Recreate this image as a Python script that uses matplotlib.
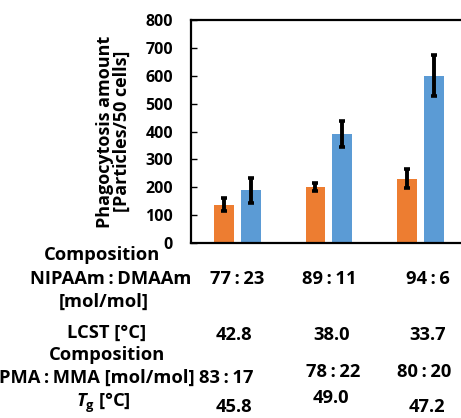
import numpy as np
import matplotlib
matplotlib.use("Agg")
import matplotlib.pyplot as plt
from matplotlib.transforms import blended_transform_factory, ScaledTranslation

plt.rcParams["font.family"] = ["Open Sans", "DejaVu Sans"]
plt.rcParams["font.weight"] = "bold"
plt.rcParams["mathtext.fontset"] = "custom"
plt.rcParams["mathtext.rm"] = "Open Sans:bold"
plt.rcParams["mathtext.it"] = "Open Sans:italic:bold"
plt.rcParams["mathtext.bf"] = "Open Sans:bold"

# bar data (three polymer compositions, two series)
orange_vals = [138, 201, 230]
orange_err = [24, 13, 34]
blue_vals = [189, 391, 600]
blue_err = [44, 46, 73]

yticks = [0, 100, 200, 300, 400, 500, 600, 700, 800]

# table below the chart
TS = "\u2009"  # thin space around the colons
nipaam_comp = [f"77{TS}:{TS}23", f"89{TS}:{TS}11", f"94{TS}:{TS}6"]
lcst = ["42.8", "38.0", "33.7"]
pma_comp = [f"83{TS}:{TS}17", f"78{TS}:{TS}22", f"80{TS}:{TS}20"]
tg = ["45.8", "49.0", "47.2"]

ORANGE = "#ED7D31"
BLUE = "#5B9BD5"

W, H = 461, 418
fig = plt.figure(figsize=(W / 100, H / 100), dpi=100)
ax = fig.add_axes([191 / W, 1 - 243 / H, 280 / W, 223 / H])

x = np.arange(len(orange_vals))
bw = 0.217
off = 0.147
ax.bar(x - off, orange_vals, bw, color=ORANGE, zorder=2)
ax.bar(x + off, blue_vals, bw, color=BLUE, zorder=2)
ekw = dict(fmt="none", ecolor="black", elinewidth=2.8, capsize=2, capthick=2.6, zorder=3)
ax.errorbar(x - off, orange_vals, yerr=orange_err, **ekw)
ax.errorbar(x + off, blue_vals, yerr=blue_err, **ekw)

ax.set_xlim(-0.505, 2.55)
ax.set_ylim(0, 800)
ax.set_yticks(yticks)
ax.set_xticks([])
ax.tick_params(axis="y", direction="in", length=4, width=1, pad=13, labelsize=11.5)
for lab in ax.get_yticklabels():
    lab.set_fontweight("bold")
for side in ["top", "bottom", "left"]:
    ax.spines[side].set_linewidth(1.6)
ax.spines["right"].set_visible(False)

ax.set_ylabel("Phagocytosis amount\n[Particles/50 cells]", fontsize=13,
              fontweight="bold", linespacing=0.95, labelpad=10)

# table rows: label, label x (px), label y (px), values, value y (px), value dx (px)
fs = 13.2
rows = [
    ("Composition", 102, 255, None, None, None),
    (f"NIPAAm{TS}:{TS}DMAAm", 111, 279, nipaam_comp, [279, 279, 279], [0, 0, 7]),
    ("[mol/mol]", 104, 302, None, None, None),
    ("LCST [°C]", 107, 333, lcst, [335, 335, 335], [-3, 3, 7]),
    ("Composition", 107, 355, None, None, None),
    (f"PMA{TS}:{TS}MMA [mol/mol]", 97, 378, pma_comp, [378, 372, 372], [-11, 4, 4]),
    (r"$T_{\mathrm{g}}$ [°C]", 103, 403, tg, [407, 398, 407], [-3, 2, 6]),
]
tr = blended_transform_factory(ax.transData, fig.transFigure)
for label, lx, ly, vals, vys, dxs in rows:
    fig.text(lx / W, 1 - ly / H, label, ha="center", va="center",
             fontsize=fs, fontweight="bold")
    if vals is not None:
        for xi, v, vy, dx in zip(x, vals, vys, dxs):
            shift = ScaledTranslation(dx / 100, 0, fig.dpi_scale_trans)
            ax.text(xi, 1 - vy / H, v, transform=tr + shift, ha="center",
                    va="center", fontsize=fs, fontweight="bold", clip_on=False)

fig.savefig("out.png", dpi=100, facecolor="white")
